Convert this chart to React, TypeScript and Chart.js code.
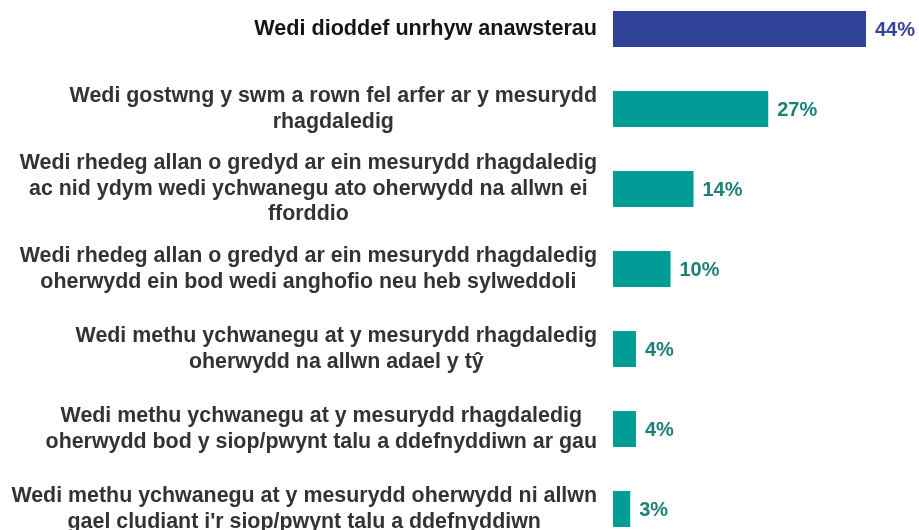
import React, { useEffect, useRef } from "react";
import { Chart, registerables } from "chart.js";

Chart.register(...registerables);

const categories: string[][] = [
  ["Wedi dioddef unrhyw anawsterau"],
  ["Wedi gostwng y swm a rown fel arfer ar y mesurydd", "rhagdaledig"],
  [
    "Wedi rhedeg allan o gredyd ar ein mesurydd rhagdaledig",
    "ac nid ydym wedi ychwanegu ato oherwydd na allwn ei",
    "fforddio",
  ],
  [
    "Wedi rhedeg allan o gredyd ar ein mesurydd rhagdaledig",
    "oherwydd ein bod wedi anghofio neu heb sylweddoli",
  ],
  ["Wedi methu ychwanegu at y mesurydd rhagdaledig", "oherwydd na allwn adael y tŷ"],
  [
    "Wedi methu ychwanegu at y mesurydd rhagdaledig",
    "oherwydd bod y siop/pwynt talu a ddefnyddiwn ar gau",
  ],
  [
    "Wedi methu ychwanegu at y mesurydd oherwydd ni allwn",
    "gael cludiant i'r siop/pwynt talu a ddefnyddiwn",
  ],
];

const values: number[] = [44, 27, 14, 10, 4, 4, 3];
const valueLabels: string[] = ["44%", "27%", "14%", "10%", "4%", "4%", "3%"];

const BLUE = "#2F4498";
const TEAL = "#009C95";
const BLUE_TEXT = "#34449A";
const TEAL_TEXT = "#1D7F78";

const labelPlugin = {
  id: "customLabels",
  afterDatasetsDraw(chart: any) {
    const ctx = chart.ctx;
    const yScale = chart.scales.y;
    const area = chart.chartArea;
    const lh = 25.5;
    ctx.save();
    categories.forEach((lines, i) => {
      const y = yScale.getPixelForValue(i);
      ctx.font =
        i === 0
          ? "bold 21.6px 'Liberation Sans', Arial, sans-serif"
          : "bold 21.4px 'Liberation Sans', Arial, sans-serif";
      ctx.fillStyle = i === 0 ? "#151515" : "#333333";
      let maxW = 0;
      lines.forEach((l) => {
        maxW = Math.max(maxW, ctx.measureText(l).width);
      });
      const cx = area.left - 16 - maxW / 2;
      const startY = y - ((lines.length - 1) * lh) / 2;
      ctx.textAlign = "center";
      ctx.textBaseline = "middle";
      lines.forEach((l, j) => {
        ctx.fillText(l, cx, startY + j * lh);
      });
    });
    const meta = chart.getDatasetMeta(0);
    ctx.font = "bold 20px 'Liberation Sans', Arial, sans-serif";
    ctx.textAlign = "left";
    ctx.textBaseline = "middle";
    meta.data.forEach((bar: any, i: number) => {
      ctx.fillStyle = i === 0 ? BLUE_TEXT : TEAL_TEXT;
      ctx.fillText(valueLabels[i], bar.x + 9, bar.y + 1);
    });
    ctx.restore();
  },
};

export default function App() {
  const ref = useRef<HTMLCanvasElement | null>(null);
  useEffect(() => {
    if (!ref.current) return;
    const chart = new Chart(ref.current, {
      type: "bar",
      data: {
        labels: categories.map((c) => c.join(" ")),
        datasets: [
          {
            data: values,
            backgroundColor: values.map((_, i) => (i === 0 ? BLUE : TEAL)),
            borderWidth: 0,
            barPercentage: 0.45,
            categoryPercentage: 1,
          },
        ],
      },
      options: {
        indexAxis: "y",
        responsive: true,
        maintainAspectRatio: false,
        animation: false,
        layout: { padding: { left: 613, right: 18.5, top: 0, bottom: 0 } },
        plugins: {
          legend: { display: false },
          tooltip: { enabled: false },
        },
        scales: {
          x: { display: false, min: 0, max: 50 },
          y: { display: false, offset: true },
        },
      },
      plugins: [labelPlugin],
    });
    return () => chart.destroy();
  }, []);
  return (
    <div
      style={{
        position: "fixed",
        left: 0,
        top: 0,
        width: 919,
        height: 530,
        overflow: "hidden",
        background: "#fff",
      }}
    >
      <div style={{ position: "absolute", left: 0, top: -11, width: 919, height: 560 }}>
        <canvas ref={ref} />
      </div>
    </div>
  );
}
